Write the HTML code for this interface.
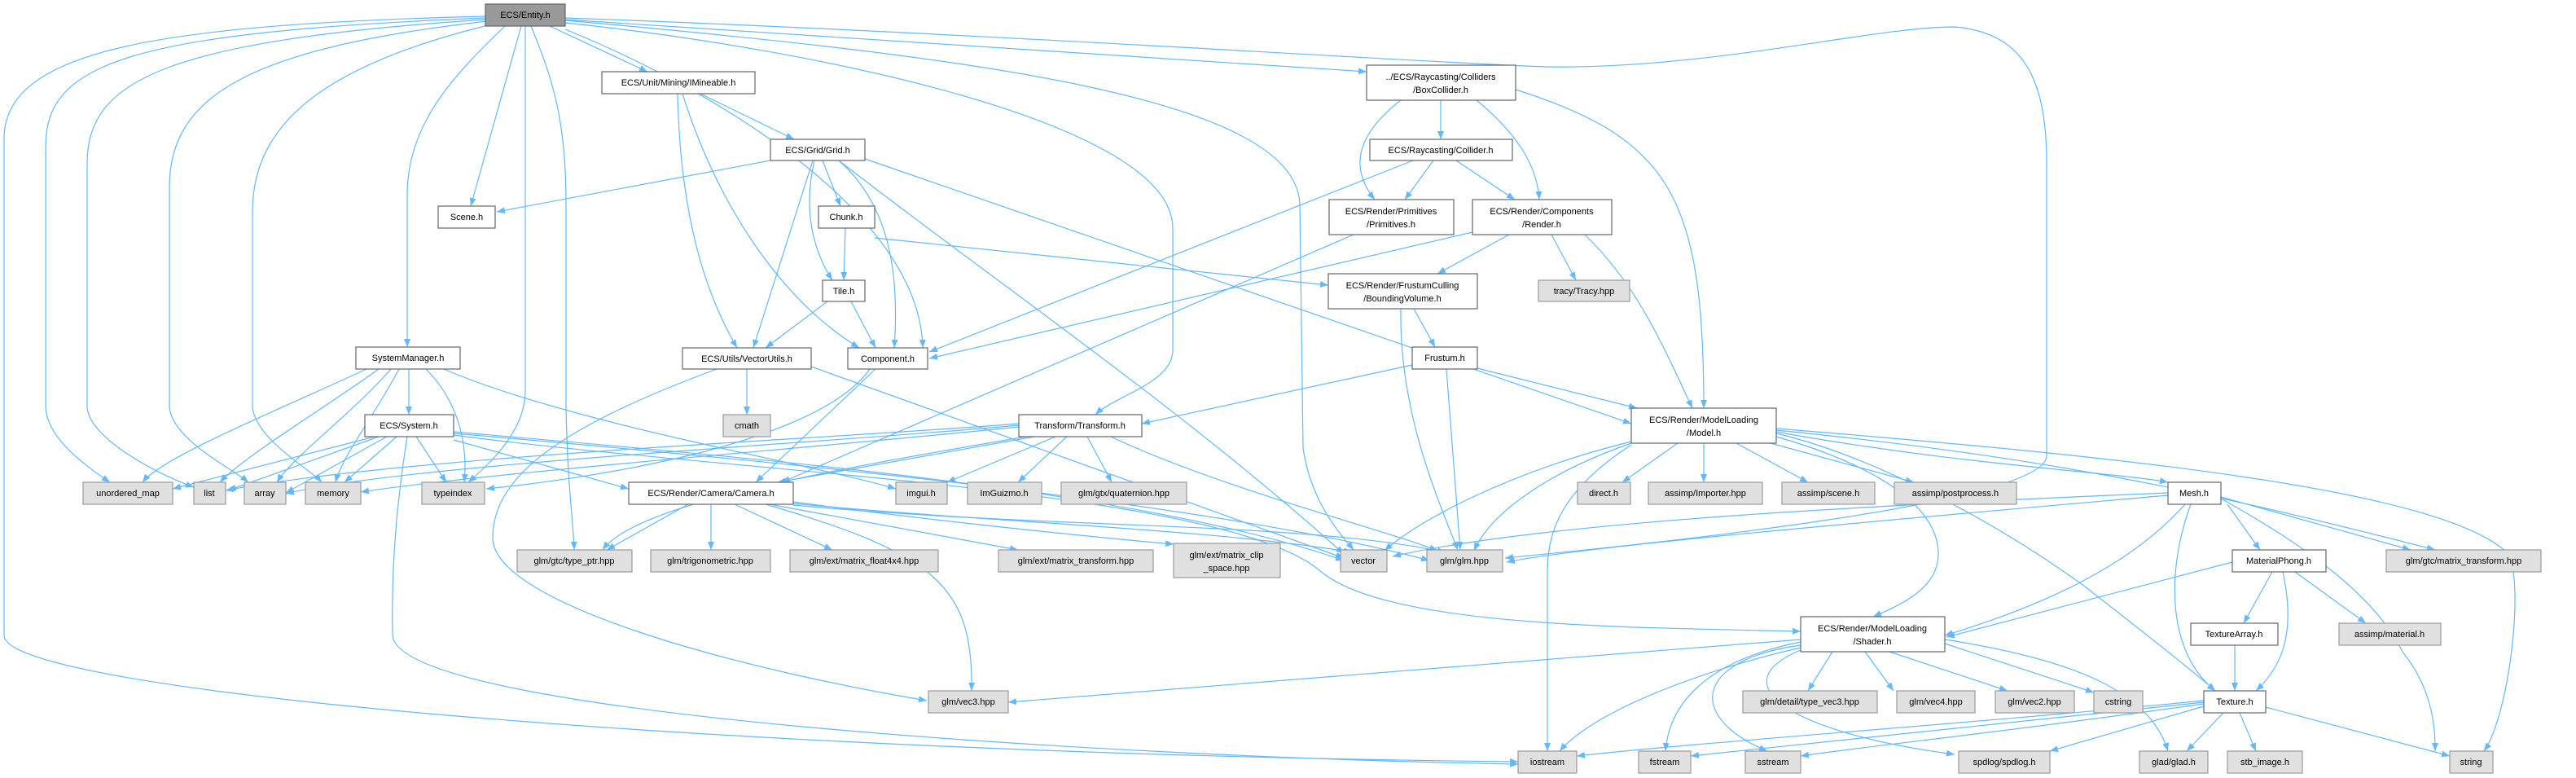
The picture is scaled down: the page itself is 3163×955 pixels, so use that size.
<!DOCTYPE html>
<html><head><meta charset="utf-8"><style>
html,body{margin:0;padding:0;background:#fff;}
svg{display:block;}
text{font-family:"Liberation Sans",Arial,sans-serif;font-size:11px;fill:#000;}
.e{fill:none;stroke:#63B8FF;stroke-width:1.2;marker-end:url(#a);}
.u{fill:#fff;stroke:#666;stroke-width:1.2;}
.x{fill:#e0e0e0;stroke:#999;stroke-width:1.2;}
.r{fill:#999;stroke:#666;stroke-width:1.2;}
</style></head><body>
<svg width="3163" height="955" viewBox="0 0 3163 955" xmlns="http://www.w3.org/2000/svg">
<defs><marker id="a" markerWidth="10" markerHeight="8" refX="10" refY="4" orient="auto" markerUnits="userSpaceOnUse"><path d="M0,0 L10,4 L0,8 z" fill="#63B8FF"/></marker></defs>
<g>
<path class="e" d="M596,20 C200,30 5,60 5,170 L5,780 C5,850 900,925 1864,935"/>
<path class="e" d="M596,22 C150,40 56,80 56,180 L56,500 C58,540 110,575 135,592"/>
<path class="e" d="M596,24 C200,50 107,100 107,200 L107,500 C110,540 200,585 238,598"/>
<path class="e" d="M598,26 C300,60 208,120 208,230 L208,500 C212,540 285,575 305,592"/>
<path class="e" d="M603,30 C400,80 310,150 310,260 L310,500 C315,540 380,575 395,592"/>
<path class="e" d="M620,32 C560,90 500,150 500,240 L500,426"/>
<path class="e" d="M640,32 L578,253"/>
<path class="e" d="M645,32 L645,480 C645,530 600,570 575,592"/>
<path class="e" d="M652,32 C680,100 695,150 695,250 L695,500 C697,600 704,640 705,675"/>
<path class="e" d="M675,32 L795,88"/>
<path class="e" d="M694,36 C900,120 1130,270 1133,427"/>
<path class="e" d="M694,28 C1000,60 1440,150 1440,280 L1440,430 C1440,470 1370,485 1345,509"/>
<path class="e" d="M694,25 C1200,70 1590,120 1596,250 L1600,550 C1610,620 1650,660 1662,675"/>
<path class="e" d="M694,24 L1678,88"/>
<path class="e" d="M694,22 C1200,40 1800,80 1900,82 C2100,85 2300,33 2400,33 C2480,40 2513,90 2513,200 L2513,560 C2510,620 2000,670 1848,685"/>
<path class="e" d="M860,115 L975,171"/>
<path class="e" d="M832,115 C835,250 860,350 905,427"/>
<path class="e" d="M838,115 C880,250 960,370 1055,427"/>
<path class="e" d="M946,197 L610,260"/>
<path class="e" d="M1010,197 L1032,253"/>
<path class="e" d="M1000,197 C985,260 1000,310 1022,344"/>
<path class="e" d="M998,197 L925,427"/>
<path class="e" d="M1030,197 C1090,250 1105,330 1098,427"/>
<path class="e" d="M1030,197 C1200,330 1450,500 1650,680"/>
<path class="e" d="M1062,195 L2003,520"/>
<path class="e" d="M1038,280 L1036,344"/>
<path class="e" d="M1074,292 L1631,350"/>
<path class="e" d="M1016,370 L940,427"/>
<path class="e" d="M1045,370 L1075,427"/>
<path class="e" d="M917,453 L917,509"/>
<path class="e" d="M996,450 L1650,685"/>
<path class="e" d="M880,453 C700,520 605,580 605,660 C605,740 900,820 1138,860"/>
<path class="e" d="M1075,453 L928,592"/>
<path class="e" d="M1068,453 C1000,550 700,590 597,600"/>
<path class="e" d="M450,453 C350,500 200,560 175,592"/>
<path class="e" d="M465,453 C400,500 300,560 270,592"/>
<path class="e" d="M480,453 C430,510 360,560 340,592"/>
<path class="e" d="M490,453 C460,510 420,560 412,592"/>
<path class="e" d="M502,453 L502,509"/>
<path class="e" d="M523,453 C560,490 575,540 570,592"/>
<path class="e" d="M545,453 C700,520 1000,570 1100,600"/>
<path class="e" d="M460,536 L212,600"/>
<path class="e" d="M465,536 L280,602"/>
<path class="e" d="M475,536 L351,605"/>
<path class="e" d="M487,536 L423,592"/>
<path class="e" d="M511,536 L548,592"/>
<path class="e" d="M500,536 C490,600 480,680 482,780 C490,880 1400,930 1864,938"/>
<path class="e" d="M557,540 L772,600"/>
<path class="e" d="M557,530 C900,560 1400,600 1650,688"/>
<path class="e" d="M557,532 C1000,570 1500,620 1755,688"/>
<path class="e" d="M557,534 C900,580 1500,600 1620,700 C1700,770 2000,770 2211,775"/>
<path class="e" d="M1251,520 C1000,540 500,560 277,602"/>
<path class="e" d="M1251,522 C1000,545 500,570 351,606"/>
<path class="e" d="M1251,524 C1000,550 600,580 443,604"/>
<path class="e" d="M1270,536 L955,592"/>
<path class="e" d="M1260,536 C1000,580 780,620 740,675"/>
<path class="e" d="M1296,536 L1163,592"/>
<path class="e" d="M1310,536 L1250,592"/>
<path class="e" d="M1335,536 L1365,592"/>
<path class="e" d="M1364,536 C1500,600 1700,650 1765,676"/>
<path class="e" d="M873,619 L873,675"/>
<path class="e" d="M902,619 L1022,675"/>
<path class="e" d="M945,619 L1250,675"/>
<path class="e" d="M974,616 C1150,640 1350,660 1441,668"/>
<path class="e" d="M845,619 L745,675"/>
<path class="e" d="M940,619 C1150,680 1195,720 1193,848"/>
<path class="e" d="M974,618 C1200,640 1500,650 1660,678"/>
<path class="e" d="M974,620 C1300,650 1600,640 1775,678"/>
<path class="e" d="M1769,123 L1769,171"/>
<path class="e" d="M1720,123 C1660,170 1660,210 1688,245"/>
<path class="e" d="M1813,123 C1870,170 1888,210 1890,245"/>
<path class="e" d="M1861,110 C2050,170 2092,240 2092,501"/>
<path class="e" d="M1760,197 L1725,245"/>
<path class="e" d="M1788,197 L1860,245"/>
<path class="e" d="M1735,197 L1141,432"/>
<path class="e" d="M1662,288 L960,592"/>
<path class="e" d="M1808,285 L1141,440"/>
<path class="e" d="M1853,288 L1765,336"/>
<path class="e" d="M1905,288 L1935,344"/>
<path class="e" d="M1946,288 C2010,350 2040,420 2078,501"/>
<path class="e" d="M1720,379 C1718,500 1760,600 1790,675"/>
<path class="e" d="M1736,379 L1762,426"/>
<path class="e" d="M1734,448 L1402,520"/>
<path class="e" d="M1776,453 L1793,675"/>
<path class="e" d="M1814,452 L2010,501"/>
<path class="e" d="M2060,544 L1992,592"/>
<path class="e" d="M2092,544 L2092,592"/>
<path class="e" d="M2132,544 L2220,592"/>
<path class="e" d="M2174,544 L2350,592"/>
<path class="e" d="M2003,542 C1850,580 1740,640 1700,676"/>
<path class="e" d="M2003,544 C1900,580 1830,630 1810,676"/>
<path class="e" d="M2003,546 C1920,600 1900,650 1900,700 L1900,922"/>
<path class="e" d="M2181,530 C2400,570 2600,580 2662,592"/>
<path class="e" d="M2181,536 C2300,570 2380,620 2380,680 C2380,720 2340,740 2300,757"/>
<path class="e" d="M2181,532 C2300,560 2450,640 2560,720 C2650,790 2700,830 2720,848"/>
<path class="e" d="M2181,528 C2500,560 2700,600 2990,675"/>
<path class="e" d="M2181,526 C2600,560 3000,600 3080,680 C3100,720 3080,880 3050,922"/>
<path class="e" d="M2662,605 C2300,620 1900,640 1710,683"/>
<path class="e" d="M2662,608 C2300,640 1950,670 1850,690"/>
<path class="e" d="M2735,619 L2775,675"/>
<path class="e" d="M2727,610 L2960,675"/>
<path class="e" d="M2727,612 C2850,680 2920,740 2950,800 C2990,850 2990,900 2990,922"/>
<path class="e" d="M2690,619 C2660,700 2660,800 2720,848"/>
<path class="e" d="M2683,619 C2620,690 2520,740 2388,780"/>
<path class="e" d="M2790,702 L2755,765"/>
<path class="e" d="M2803,702 C2820,780 2800,820 2770,848"/>
<path class="e" d="M2818,702 L2905,765"/>
<path class="e" d="M2741,690 L2390,782"/>
<path class="e" d="M2744,792 L2744,848"/>
<path class="e" d="M2211,785 C1900,810 1500,840 1238,862"/>
<path class="e" d="M2250,800 L2220,848"/>
<path class="e" d="M2290,800 L2325,848"/>
<path class="e" d="M2320,800 L2465,848"/>
<path class="e" d="M2388,790 L2571,850"/>
<path class="e" d="M2211,795 C2100,820 1960,870 1915,922"/>
<path class="e" d="M2211,788 C2100,810 2050,860 2045,922"/>
<path class="e" d="M2211,792 C2080,810 2070,880 2170,922"/>
<path class="e" d="M2211,798 C2110,840 2200,900 2400,926"/>
<path class="e" d="M2388,785 C2550,810 2640,850 2662,922"/>
<path class="e" d="M2706,860 C2400,890 2100,910 1936,928"/>
<path class="e" d="M2706,862 C2400,895 2200,915 2076,928"/>
<path class="e" d="M2706,864 C2450,900 2300,915 2211,928"/>
<path class="e" d="M2706,867 L2517,922"/>
<path class="e" d="M2730,875 L2685,922"/>
<path class="e" d="M2750,875 L2770,922"/>
<path class="e" d="M2782,868 L3008,928"/>
</g>
<g>
<rect class="r" x="596" y="5" width="98" height="27"/><text x="645" y="22" text-anchor="middle">ECS/Entity.h</text>
<rect class="u" x="739" y="88" width="188" height="27"/><text x="833" y="105" text-anchor="middle">ECS/Unit/Mining/IMineable.h</text>
<rect class="u" x="538" y="253" width="70" height="27"/><text x="573" y="270" text-anchor="middle">Scene.h</text>
<rect class="u" x="437" y="426" width="128" height="27"/><text x="501" y="443" text-anchor="middle">SystemManager.h</text>
<rect class="u" x="946" y="171" width="116" height="26"/><text x="1004" y="188" text-anchor="middle">ECS/Grid/Grid.h</text>
<rect class="u" x="1005" y="253" width="69" height="27"/><text x="1039" y="270" text-anchor="middle">Chunk.h</text>
<rect class="u" x="1010" y="344" width="52" height="26"/><text x="1036" y="361" text-anchor="middle">Tile.h</text>
<rect class="u" x="838" y="427" width="158" height="26"/><text x="917" y="444" text-anchor="middle">ECS/Utils/VectorUtils.h</text>
<rect class="u" x="1041" y="427" width="98" height="26"/><text x="1090" y="444" text-anchor="middle">Component.h</text>
<rect class="u" x="1678" y="80" width="183" height="43"/><text x="1769" y="98" text-anchor="middle">../ECS/Raycasting/Colliders</text><text x="1769" y="114" text-anchor="middle">/BoxCollider.h</text>
<rect class="u" x="1682" y="171" width="175" height="26"/><text x="1769" y="188" text-anchor="middle">ECS/Raycasting/Collider.h</text>
<rect class="u" x="1632" y="245" width="153" height="43"/><text x="1708" y="263" text-anchor="middle">ECS/Render/Primitives</text><text x="1708" y="279" text-anchor="middle">/Primitives.h</text>
<rect class="u" x="1808" y="245" width="171" height="43"/><text x="1893" y="263" text-anchor="middle">ECS/Render/Components</text><text x="1893" y="279" text-anchor="middle">/Render.h</text>
<rect class="u" x="1631" y="336" width="183" height="43"/><text x="1722" y="354" text-anchor="middle">ECS/Render/FrustumCulling</text><text x="1722" y="370" text-anchor="middle">/BoundingVolume.h</text>
<rect class="x" x="1889" y="344" width="112" height="26"/><text x="1945" y="361" text-anchor="middle">tracy/Tracy.hpp</text>
<rect class="u" x="1734" y="426" width="80" height="27"/><text x="1774" y="443" text-anchor="middle">Frustum.h</text>
<rect class="u" x="448" y="509" width="109" height="27"/><text x="502" y="526" text-anchor="middle">ECS/System.h</text>
<rect class="x" x="102" y="592" width="110" height="27"/><text x="157" y="609" text-anchor="middle">unordered_map</text>
<rect class="x" x="238" y="592" width="39" height="27"/><text x="257" y="609" text-anchor="middle">list</text>
<rect class="x" x="300" y="592" width="51" height="27"/><text x="325" y="609" text-anchor="middle">array</text>
<rect class="x" x="375" y="592" width="68" height="27"/><text x="409" y="609" text-anchor="middle">memory</text>
<rect class="x" x="518" y="592" width="77" height="27"/><text x="556" y="609" text-anchor="middle">typeindex</text>
<rect class="x" x="635" y="675" width="141" height="27"/><text x="705" y="692" text-anchor="middle">glm/gtc/type_ptr.hpp</text>
<rect class="u" x="772" y="592" width="202" height="27"/><text x="873" y="609" text-anchor="middle">ECS/Render/Camera/Camera.h</text>
<rect class="x" x="888" y="509" width="58" height="27"/><text x="917" y="526" text-anchor="middle">cmath</text>
<rect class="u" x="1251" y="509" width="151" height="27"/><text x="1326" y="526" text-anchor="middle">Transform/Transform.h</text>
<rect class="x" x="1100" y="592" width="63" height="27"/><text x="1131" y="609" text-anchor="middle">imgui.h</text>
<rect class="x" x="1188" y="592" width="91" height="27"/><text x="1233" y="609" text-anchor="middle">ImGuizmo.h</text>
<rect class="x" x="1303" y="592" width="154" height="27"/><text x="1380" y="609" text-anchor="middle">glm/gtx/quaternion.hpp</text>
<rect class="x" x="799" y="675" width="147" height="27"/><text x="872" y="692" text-anchor="middle">glm/trigonometric.hpp</text>
<rect class="x" x="970" y="675" width="182" height="27"/><text x="1061" y="692" text-anchor="middle">glm/ext/matrix_float4x4.hpp</text>
<rect class="x" x="1226" y="675" width="190" height="27"/><text x="1321" y="692" text-anchor="middle">glm/ext/matrix_transform.hpp</text>
<rect class="x" x="1441" y="667" width="131" height="42"/><text x="1506" y="685" text-anchor="middle">glm/ext/matrix_clip</text><text x="1506" y="701" text-anchor="middle">_space.hpp</text>
<rect class="x" x="1140" y="848" width="98" height="27"/><text x="1189" y="865" text-anchor="middle">glm/vec3.hpp</text>
<rect class="u" x="2003" y="501" width="178" height="43"/><text x="2092" y="519" text-anchor="middle">ECS/Render/ModelLoading</text><text x="2092" y="535" text-anchor="middle">/Model.h</text>
<rect class="x" x="1937" y="592" width="65" height="27"/><text x="1969" y="609" text-anchor="middle">direct.h</text>
<rect class="x" x="2024" y="592" width="140" height="27"/><text x="2094" y="609" text-anchor="middle">assimp/Importer.hpp</text>
<rect class="x" x="2188" y="592" width="114" height="27"/><text x="2245" y="609" text-anchor="middle">assimp/scene.h</text>
<rect class="x" x="2326" y="592" width="150" height="27"/><text x="2401" y="609" text-anchor="middle">assimp/postprocess.h</text>
<rect class="x" x="1646" y="675" width="57" height="27"/><text x="1674" y="692" text-anchor="middle">vector</text>
<rect class="x" x="1752" y="675" width="93" height="27"/><text x="1798" y="692" text-anchor="middle">glm/glm.hpp</text>
<rect class="u" x="2211" y="757" width="177" height="43"/><text x="2299" y="775" text-anchor="middle">ECS/Render/ModelLoading</text><text x="2299" y="791" text-anchor="middle">/Shader.h</text>
<rect class="x" x="2140" y="848" width="165" height="27"/><text x="2222" y="865" text-anchor="middle">glm/detail/type_vec3.hpp</text>
<rect class="x" x="2329" y="848" width="96" height="27"/><text x="2377" y="865" text-anchor="middle">glm/vec4.hpp</text>
<rect class="x" x="1864" y="922" width="72" height="27"/><text x="1900" y="939" text-anchor="middle">iostream</text>
<rect class="x" x="2012" y="922" width="64" height="27"/><text x="2044" y="939" text-anchor="middle">fstream</text>
<rect class="x" x="2143" y="922" width="68" height="27"/><text x="2177" y="939" text-anchor="middle">sstream</text>
<rect class="u" x="2662" y="592" width="65" height="27"/><text x="2694" y="609" text-anchor="middle">Mesh.h</text>
<rect class="u" x="2741" y="675" width="115" height="27"/><text x="2798" y="692" text-anchor="middle">MaterialPhong.h</text>
<rect class="x" x="2930" y="675" width="190" height="27"/><text x="3025" y="692" text-anchor="middle">glm/gtc/matrix_transform.hpp</text>
<rect class="u" x="2690" y="765" width="107" height="27"/><text x="2743" y="782" text-anchor="middle">TextureArray.h</text>
<rect class="x" x="2872" y="765" width="125" height="27"/><text x="2934" y="782" text-anchor="middle">assimp/material.h</text>
<rect class="x" x="2450" y="848" width="97" height="27"/><text x="2498" y="865" text-anchor="middle">glm/vec2.hpp</text>
<rect class="x" x="2571" y="848" width="60" height="27"/><text x="2601" y="865" text-anchor="middle">cstring</text>
<rect class="u" x="2706" y="848" width="76" height="27"/><text x="2744" y="865" text-anchor="middle">Texture.h</text>
<rect class="x" x="2405" y="922" width="112" height="27"/><text x="2461" y="939" text-anchor="middle">spdlog/spdlog.h</text>
<rect class="x" x="2627" y="922" width="84" height="27"/><text x="2669" y="939" text-anchor="middle">glad/glad.h</text>
<rect class="x" x="2735" y="922" width="92" height="27"/><text x="2781" y="939" text-anchor="middle">stb_image.h</text>
<rect class="x" x="3008" y="922" width="53" height="27"/><text x="3034" y="939" text-anchor="middle">string</text>
</g>
</svg>
</body></html>
